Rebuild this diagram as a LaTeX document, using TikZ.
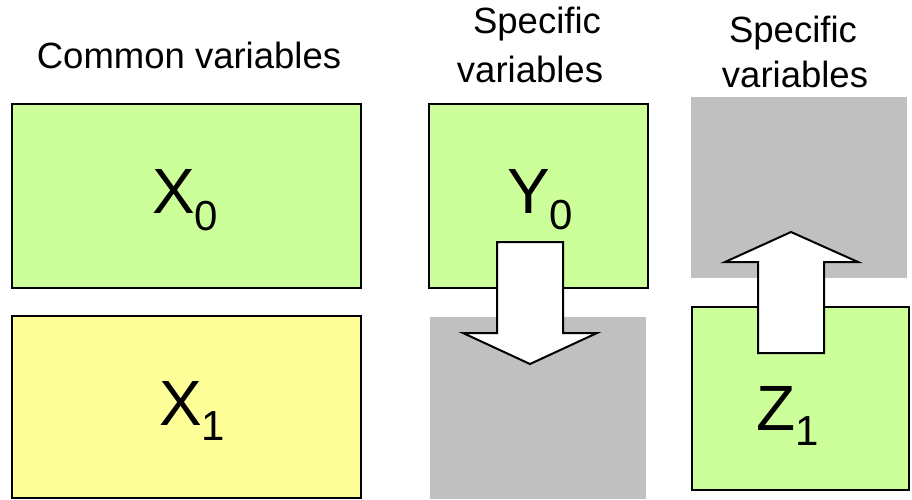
\documentclass[tikz,border=0pt]{standalone}
\usepackage{fontspec}
\setmainfont{Liberation Sans}
\definecolor{boxgreen}{HTML}{CCFF99}
\definecolor{boxyellow}{HTML}{FFFF99}
\definecolor{boxgray}{HTML}{C0C0C0}
\tikzset{
  varbox/.style={draw=black, line width=2pt, inner sep=0pt, outer sep=0pt},
  graybox/.style={fill=boxgray, draw=none, inner sep=0pt, outer sep=0pt},
  titletext/.style={inner sep=0pt, anchor=base, font=\fontsize{36.5}{36.5}\selectfont},
  varlabel/.style={inner sep=0pt, anchor=base west},
  blockarrow/.style={fill=white, draw=black, line width=2pt, line join=miter},
}
\newcommand{\varlab}[3]{\fontsize{64}{64}\selectfont #1\raisebox{-#3pt}{\fontsize{42}{42}\selectfont #2}}
\begin{document}
\begin{tikzpicture}[x=1pt,y=-1pt]
\useasboundingbox (0,0) rectangle (912,499);
% boxes
\node[varbox, fill=boxgreen, minimum width=349pt, minimum height=184pt] (x0) at (186.5,196) {};
\node[varbox, fill=boxyellow, minimum width=349pt, minimum height=182pt] (x1) at (186.5,407) {};
\node[varbox, fill=boxgreen, minimum width=219pt, minimum height=184pt] (y0) at (538.5,196) {};
\node[graybox, minimum width=216pt, minimum height=182pt] (y1) at (538,408) {};
\node[graybox, minimum width=216pt, minimum height=181pt] (z0) at (799,187.5) {};
\node[varbox, fill=boxgreen, minimum width=217pt, minimum height=183pt] (z1) at (800.5,398.5) {};
% block arrows
\draw[blockarrow] (497,242) -- (563,242) -- (563,333) -- (597,333) -- (530,364) -- (463,333) -- (497,333) -- cycle;
\draw[blockarrow] (758,353) -- (824,353) -- (824,262) -- (858,262) -- (791,232) -- (725,262) -- (758,262) -- cycle;
% labels
\node[varlabel] (lx0) at (152,213) {\varlab{X}{0}{17}};
\node[varlabel] (ly0) at (507,213) {\varlab{Y}{0}{16}};
\node[varlabel] (lx1) at (159,425) {\varlab{X}{1}{15}};
\node[varlabel] (lz1) at (756,430) {\varlab{Z}{1}{15}};
% titles
\node[titletext] (tc) at (189,68) {Common variables};
\node[titletext] (ty1) at (537,33) {Specific};
\node[titletext] (ty2) at (530,82) {variables};
\node[titletext] (tz1) at (793,42) {Specific};
\node[titletext] (tz2) at (795,87) {variables};
\end{tikzpicture}
\end{document}
